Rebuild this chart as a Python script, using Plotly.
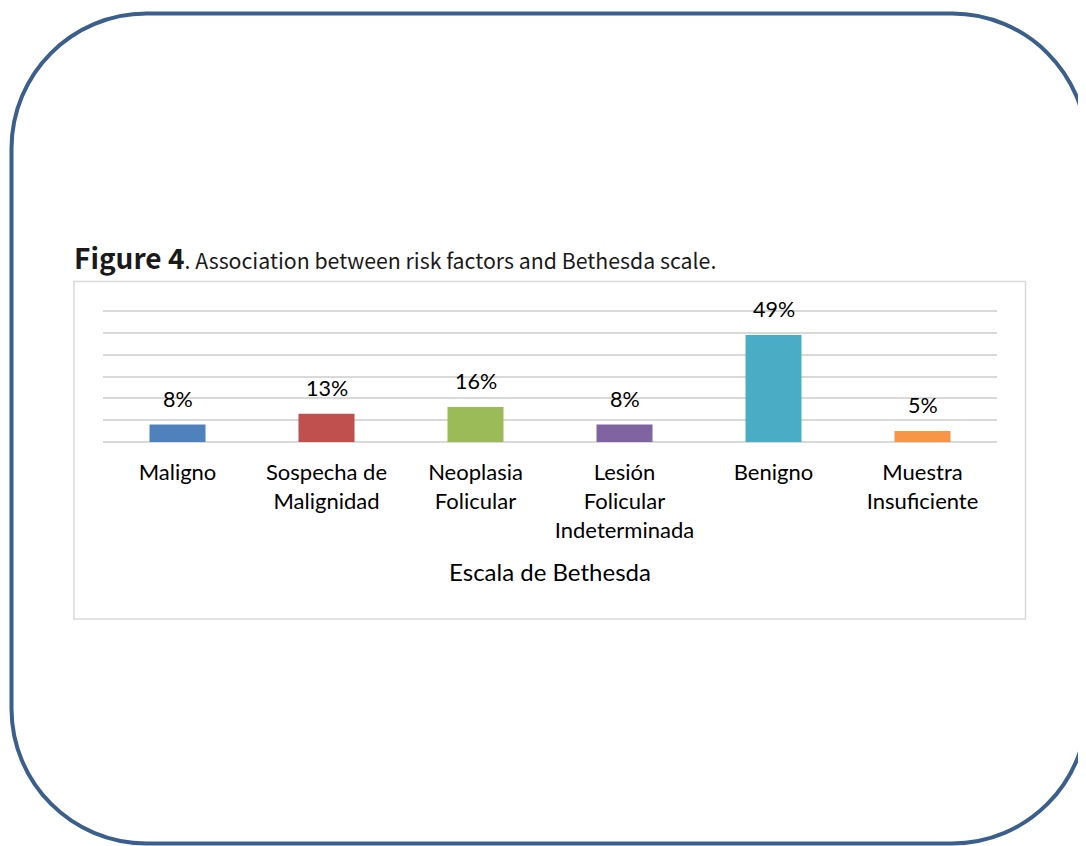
import plotly.graph_objects as go

categories = ["Maligno", "Sospecha de<br>Malignidad", "Neoplasia<br>Folicular",
              "Lesión<br>Folicular<br>Indeterminada", "Benigno", "Muestra<br>Insuficiente"]
values = [8, 13, 16, 8, 49, 5]
value_labels = ["8%", "13%", "16%", "8%", "49%", "5%"]
colors = ["#4F81BD", "#C0504D", "#9BBB59", "#8064A2", "#4BACC6", "#F79646"]

# the page body has an 8px default margin; work in viewport pixels and convert
OFF = 8
W, H = 1086 - OFF, 846 - OFF
PL, PR, PT, PB = 103, 997, 310, 442   # plot area in viewport pixels
ML, MR, MT, MB = PL - OFF, W - (PR - OFF), PT - OFF, H - (PB - OFF)
PW, PH = W - ML - MR, H - MT - MB

def px(x):
    return (x - OFF - ML) / PW

def py(y):
    return (H - MB - (y - OFF)) / PH

fig = go.Figure()
fig.add_trace(go.Bar(
    x=categories, y=values, width=0.376,
    marker=dict(color=colors, line=dict(width=0)),
    hoverinfo="skip",
))

LABEL_FONT = "Lato, 'Open Sans', sans-serif"

annotations = []
for c, v, t in zip(categories, values, value_labels):
    annotations.append(dict(x=c, y=v, xref="x", yref="y", text=t, showarrow=False,
                            yanchor="bottom", yshift=11,
                            font=dict(family=LABEL_FONT, size=21.5, color="#000000")))

annotations.append(dict(
    x=px(72), y=py(257), xref="paper", yref="paper", xanchor="left", yanchor="middle",
    showarrow=False,
    text="<b><span style='font-size:28px'>Figure 4</span></b>. Association between risk factors and Bethesda scale.",
    font=dict(family="'Noto Sans CJK JP', 'Noto Sans', sans-serif", size=21.3, color="#1A1A1A"),
))

# rounded outer frame
L, R, T, B, r = 11.5, 1087, 13.5, 843.5, 135
k = 0.5523 * r
def P(x, y):
    return f"{px(x):.5f},{py(y):.5f}"
path = (f"M {P(L + r, T)} L {P(R - r, T)} "
        f"C {P(R - r + k, T)} {P(R, T + r - k)} {P(R, T + r)} "
        f"L {P(R, B - r)} "
        f"C {P(R, B - r + k)} {P(R - r + k, B)} {P(R - r, B)} "
        f"L {P(L + r, B)} "
        f"C {P(L + r - k, B)} {P(L, B - r + k)} {P(L, B - r)} "
        f"L {P(L, T + r)} "
        f"C {P(L, T + r - k)} {P(L + r - k, T)} {P(L + r, T)} Z")

shapes = [
    dict(type="path", xref="paper", yref="paper", path=path,
         line=dict(color="#3B5F8D", width=4), layer="below"),
    dict(type="rect", xref="paper", yref="paper",
         x0=px(74), x1=px(1025.5), y0=py(619), y1=py(281.5),
         line=dict(color="#D9D9D9", width=1.5), layer="below"),
]

fig.update_layout(
    width=W, height=H,
    margin=dict(l=ML, r=MR, t=MT, b=MB, autoexpand=False),
    paper_bgcolor="white", plot_bgcolor="white",
    showlegend=False,
    annotations=annotations,
    shapes=shapes,
    xaxis=dict(
        type="category", showgrid=False, showline=False, zeroline=False,
        ticks="outside", ticklen=11, tickcolor="rgba(0,0,0,0)",
        tickfont=dict(family=LABEL_FONT, size=22, color="#000000"),
        title=dict(text="Escala de Bethesda", standoff=22,
                   font=dict(family=LABEL_FONT, size=24, color="#000000")),
        automargin=False, fixedrange=True,
    ),
    yaxis=dict(
        range=[0, 60.5], tickvals=[0, 10, 20, 30, 40, 50, 60], showticklabels=False,
        showgrid=True, gridcolor="#D9D9D9", gridwidth=1.5, zeroline=True,
        zerolinecolor="#D9D9D9", zerolinewidth=1.5, showline=False,
        automargin=False, fixedrange=True,
    ),
)

fig.write_html("out.html")
